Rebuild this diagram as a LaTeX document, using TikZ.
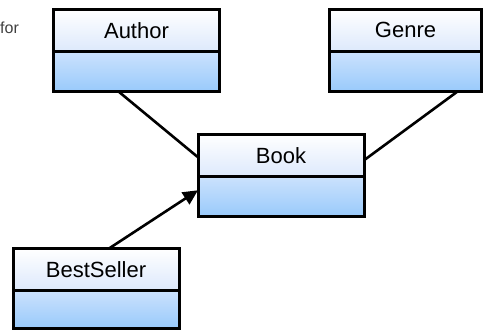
\documentclass[tikz,border=0pt]{standalone}
\usepackage{fontspec}
\setmainfont{Liberation Sans}
\usepackage{tikz}
\usetikzlibrary{positioning}
\usetikzlibrary{arrows.meta}
\definecolor{headblue}{HTML}{DDE9FC}
\definecolor{bodytop}{HTML}{CCE2FD}
\definecolor{bodyblue}{HTML}{99CAFB}
\definecolor{notegray}{HTML}{404040}

\begin{document}
\begin{tikzpicture}[x=1pt, y=-1pt,
		classhead/.style = {draw, line width=3pt, outer sep=0pt, minimum width=166pt, minimum height=41.5pt,
			inner sep=0pt, anchor=north, top color=white, bottom color=headblue,
			font=\fontsize{22}{26}\selectfont},
		classbody/.style = {draw, line width=3pt, outer sep=0pt, minimum width=166pt, minimum height=40.5pt,
			inner sep=0pt, top color=bodytop, bottom color=bodyblue},
		link/.style = {line width=2.6pt}]
	\useasboundingbox (0,0) rectangle (488,333);
	\node[anchor=base west, text=notegray, font=\fontsize{16}{19}\selectfont, inner sep=0pt] (note) at (0,33) {for};
	% classes
	\node[classhead] (author) at (136.5,9.5) {Author};
	\node[classbody, below=0pt of author] (authorbody) {};
	\node[classhead, minimum width=152pt] (genre) at (405.5,9.5) {Genre};
	\node[classbody, minimum width=152pt, below=0pt of genre] (genrebody) {};
	\node[classhead] (book) at (281,134.5) {Book};
	\node[classbody, below=0pt of book] (bookbody) {};
	\node[classhead] (bestseller) at (96,248.5) {BestSeller};
	\node[classbody, minimum height=38pt, below=0pt of bestseller] (bestsellerbody) {};
	% links
	\draw[link] ([xshift=-18pt]authorbody.south) -- ([yshift=-2pt]book.west);
	\draw[link] ([xshift=52pt]genrebody.south) -- ([yshift=-5pt]book.east);
	\draw[link, -{Triangle[length=15pt, width=14pt]}] ([xshift=13pt]bestseller.north) -- ([yshift=6pt]bookbody.west);
\end{tikzpicture}
\end{document}
